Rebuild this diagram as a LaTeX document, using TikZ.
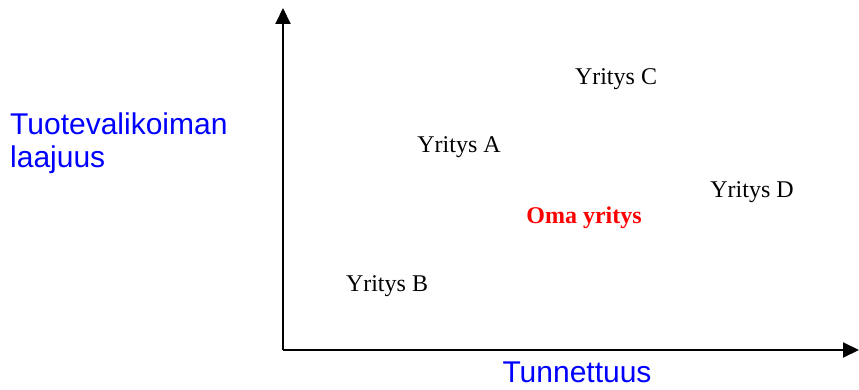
\documentclass[tikz,border=0pt]{standalone}
\usepackage{fontspec}
\setmainfont{Liberation Serif}
\newfontfamily\arialfont{Liberation Sans}
\usetikzlibrary{arrows.meta,positioning}

\tikzset{
  firm/.style={inner sep=0pt, font=\fontsize{24}{28}\selectfont},
  ownfirm/.style={firm, text=red, font=\fontsize{24}{28}\selectfont\bfseries},
  axislabel/.style={inner sep=0pt, text=blue, align=left, font=\arialfont\fontsize{30}{33}\selectfont}
}

\begin{document}
\begin{tikzpicture}[x=1pt,y=-1pt]
\useasboundingbox (0,0) rectangle (859,390);

% axes
\coordinate (origin) at (283,350);
\coordinate (ytip) at (283,8);
\coordinate (xtip) at (859,350);
\draw[line width=2pt, -{Triangle[length=16pt,width=15pt]}] (origin) -- (ytip);
\draw[line width=2pt, -{Triangle[length=16pt,width=15pt]}] (origin) -- (xtip);

% axis labels
\node[axislabel, anchor=base west] (range) at (10,168) {Tuotevalikoiman\\laajuus};
\node[axislabel, anchor=base, text depth=0pt] (fame) at (577,382) {Tunnettuus};

% companies
\node[firm] (firmC) at (616,79) {Yritys C};
\node[firm] (firmA) at (459,147) {Yritys A};
\node[firm] (firmD) at (752,192) {Yritys D};
\node[ownfirm] (own) at (584,218) {Oma yritys};
\node[firm] (firmB) at (387,286) {Yritys B};

\end{tikzpicture}
\end{document}
